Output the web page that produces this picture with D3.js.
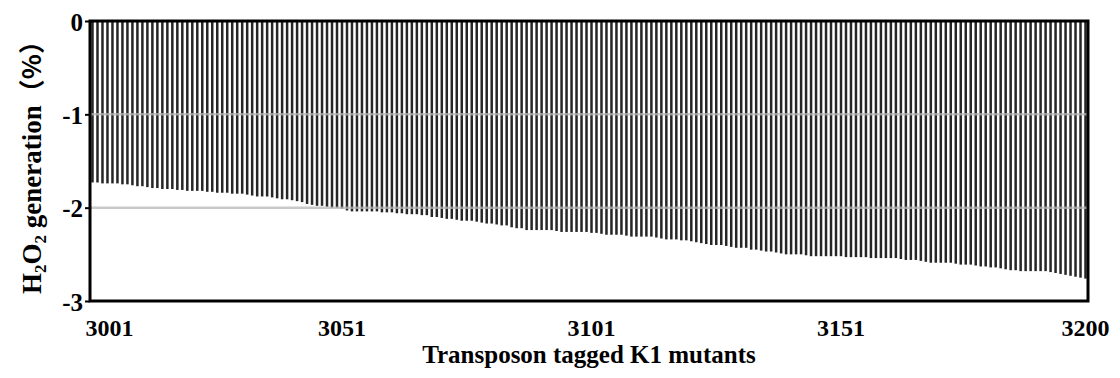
<!DOCTYPE html>
<html>
<head>
<meta charset="utf-8">
<script src="https://cdn.jsdelivr.net/npm/d3@7"></script>
<style>
  html, body { margin: 0; padding: 0; background: #fff; }
  svg { display: block; }
  text { font-family: "Liberation Serif", "Times New Roman", serif; font-weight: bold; fill: #000; }
</style>
</head>
<body>
<svg id="chart" width="1120" height="378"></svg>
<script>
// ---- data ----
const firstMutant = 3001;
const mutantCount = 200;
const categories = d3.range(firstMutant, firstMutant + mutantCount);

const h2o2Values = [
  -1.73,-1.73,-1.74,-1.74, -1.74,-1.74,-1.75,-1.75, -1.76,-1.77,-1.77,-1.78, -1.79,-1.79,-1.80,-1.80,
  -1.80,-1.81,-1.81,-1.82, -1.82,-1.82,-1.82,-1.83, -1.83,-1.84,-1.84,-1.84, -1.85,-1.85,-1.85,-1.86,
  -1.87,-1.88,-1.88,-1.88, -1.89,-1.90,-1.91,-1.91,
  -1.92,-1.93,-1.94,-1.96, -1.97,-1.98,-1.98,-1.99, -2.00,-2.00,-2.01,-2.03, -2.04,-2.04,-2.04,-2.04,
  -2.04,-2.04,-2.05,-2.05, -2.05,-2.06,-2.06,-2.07, -2.07,-2.07,-2.08,-2.08, -2.10,-2.10,-2.11,-2.12,
  -2.12,-2.13,-2.14,-2.14, -2.14,-2.15,-2.16,-2.17,
  -2.17,-2.18,-2.19,-2.19, -2.21,-2.22,-2.22,-2.24, -2.24,-2.24,-2.24,-2.24, -2.24,-2.25,-2.26,-2.26,
  -2.26,-2.26,-2.26,-2.26, -2.27,-2.27,-2.28,-2.29, -2.29,-2.29,-2.29,-2.30, -2.31,-2.31,-2.31,-2.31,
  -2.31,-2.32,-2.33,-2.34, -2.34,-2.34,-2.35,-2.35,
  -2.36,-2.37,-2.38,-2.39, -2.40,-2.40,-2.40,-2.41, -2.42,-2.43,-2.43,-2.43, -2.45,-2.45,-2.46,-2.47,
  -2.47,-2.48,-2.49,-2.50, -2.50,-2.50,-2.50,-2.51, -2.52,-2.52,-2.52,-2.52, -2.52,-2.52,-2.52,-2.53,
  -2.53,-2.53,-2.53,-2.53, -2.54,-2.54,-2.54,-2.54,
  -2.54,-2.54,-2.55,-2.56, -2.56,-2.56,-2.57,-2.58, -2.59,-2.59,-2.59,-2.59, -2.59,-2.60,-2.61,-2.61,
  -2.61,-2.62,-2.63,-2.63, -2.64,-2.64,-2.65,-2.66, -2.67,-2.67,-2.68,-2.68, -2.68,-2.68,-2.68,-2.68,
  -2.69,-2.70,-2.71,-2.72, -2.73,-2.74,-2.75,-2.76
];

const xTickLabels = [3001, 3051, 3101, 3151, 3200];
const yTicks = [0, -1, -2, -3];
const gridValues = [-1, -2];
const xTitle = "Transposon tagged K1 mutants";

// ---- layout ----
const svg = d3.select("#chart");
const margin = { left: 90, right: 32, top: 21, bottom: 77 };
const W = 1120, H = 378;
const plotW = W - margin.left - margin.right;
const plotH = H - margin.top - margin.bottom;

const x = d3.scaleBand().domain(categories).range([margin.left, margin.left + plotW]).paddingInner(0.5).paddingOuter(0.25);
const y = d3.scaleLinear().domain([-3, 0]).range([margin.top + plotH, margin.top]);

// bars
svg.append("g").selectAll("rect")
  .data(h2o2Values)
  .join("rect")
  .attr("x", (d, i) => x(categories[i]))
  .attr("width", x.bandwidth())
  .attr("y", y(0))
  .attr("height", d => y(d) - y(0))
  .attr("fill", "#262626");

// gridlines
svg.append("g").selectAll("line")
  .data(gridValues)
  .join("line")
  .attr("x1", margin.left).attr("x2", margin.left + plotW)
  .attr("y1", d => y(d)).attr("y2", d => y(d))
  .attr("stroke", "#b8b8b8").attr("stroke-width", 2.5).attr("opacity", 0.75);

// frame
svg.append("rect")
  .attr("x", margin.left).attr("y", margin.top)
  .attr("width", plotW).attr("height", plotH)
  .attr("fill", "none").attr("stroke", "#000").attr("stroke-width", 3);

// y axis
const yAxis = d3.axisLeft(y).tickValues(yTicks).tickFormat(d => String(d)).tickSize(5).tickPadding(2);
const yg = svg.append("g").attr("transform", `translate(${margin.left},0)`).call(yAxis);
yg.select(".domain").remove();
yg.selectAll(".tick line").attr("stroke", "#000").attr("stroke-width", 2);
yg.selectAll(".tick text")
  .attr("dy", "0.36em")
  .style("font-size", "25px").style("font-family", "Liberation Serif").style("font-weight", "bold");

// x tick labels
const xl = svg.append("g");
xl.selectAll("text")
  .data(xTickLabels)
  .join("text")
  .attr("x", d => x(d) + x.bandwidth() / 2)
  .attr("y", margin.top + plotH + 35)
  .attr("text-anchor", (d, i) => i === 0 ? "start" : "middle")
  .attr("dx", (d, i) => i === 0 ? -7 : 0)
  .style("font-size", "24px")
  .text(d => d);

// x title
svg.append("text")
  .attr("x", margin.left + plotW / 2)
  .attr("y", margin.top + plotH + 62)
  .attr("text-anchor", "middle")
  .style("font-size", "25px")
  .text(xTitle);

// y title
const yt = svg.append("text")
  .attr("transform", `translate(41,${margin.top + plotH / 2}) rotate(-90)`)
  .attr("text-anchor", "middle")
  .style("font-size", "27px");
yt.append("tspan").text("H");
yt.append("tspan").attr("dy", 5).style("font-size", "17px").text("2");
yt.append("tspan").attr("dy", -5).text("O");
yt.append("tspan").attr("dy", 5).style("font-size", "17px").text("2");
yt.append("tspan").attr("dy", -5).text(" generation");
yt.append("tspan").style("font-family", "Noto Sans CJK SC").style("font-weight", "bold").style("font-size", "26px").text("（%）");
</script>
</body>
</html>
